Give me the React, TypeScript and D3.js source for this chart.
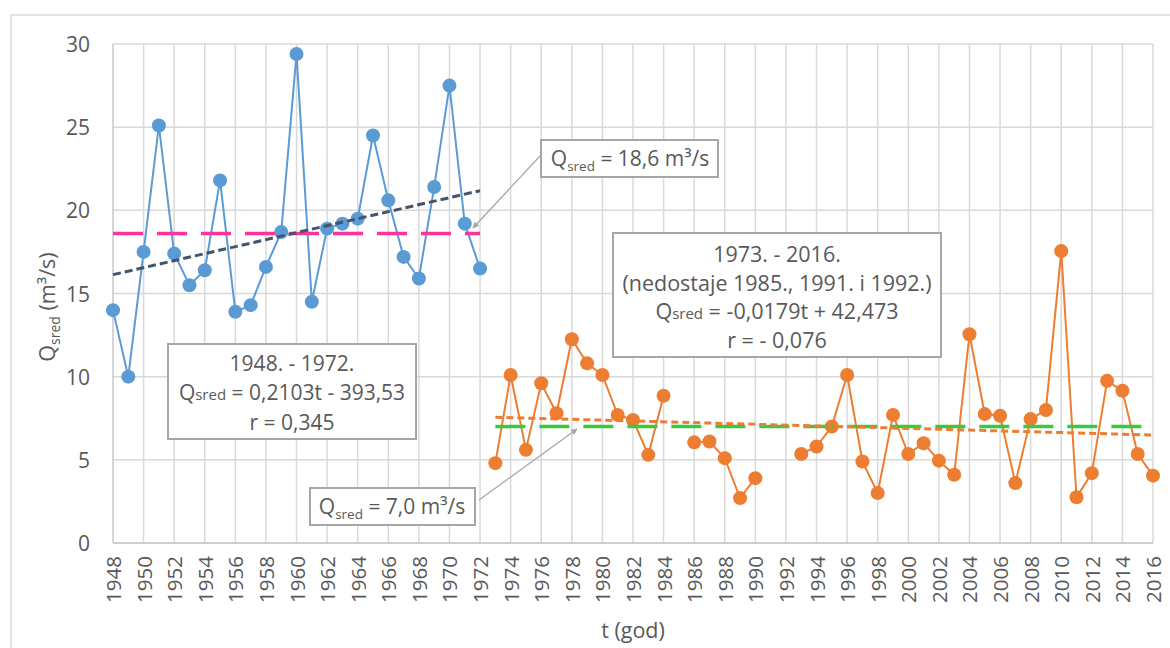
import * as d3 from 'd3'
import React from 'react'

// Mean annual discharge, period 1 (1948 - 1972)
const years1 = d3.range(1948, 1973)
const q1 = [14.0, 10.0, 17.5, 25.1, 17.4, 15.5, 16.4, 21.8, 13.9, 14.3, 16.6, 18.7, 29.4,
    14.5, 18.9, 19.2, 19.5, 24.5, 20.6, 17.2, 15.9, 21.4, 27.5, 19.2, 16.5]

// Period 2 (1973 - 2016), null = missing year (1985, 1991, 1992)
const years2 = d3.range(1973, 2017)
const q2 = [4.8, 10.1, 5.6, 9.6, 7.8, 12.25, 10.8, 10.1, 7.7, 7.4, 5.3, 8.85, null,
    6.05, 6.1, 5.1, 2.7, 3.9, null, null, 5.35, 5.8, 7.0, 10.1, 4.9, 3.0, 7.7, 5.35,
    6.0, 4.95, 4.1, 12.55, 7.75, 7.65, 3.6, 7.45, 8.0, 17.55, 2.75, 4.2, 9.75, 9.15,
    5.35, 4.05]

// Mean values and trend lines [year, Q]
const mean1 = [[1948, 18.6], [1972, 18.6]]
const mean2 = [[1973, 7.0], [2016, 7.0]]
const trend1 = [[1948, 0.2103 * 1948 - 393.53], [1972, 0.2103 * 1972 - 393.53]]
const trend2 = [[1973, 7.56], [2016, 6.49]]

const yTicks = [0, 5, 10, 15, 20, 25, 30]
const xTicks = d3.range(1948, 2017, 2)

const font = "'Open Sans', sans-serif"
const txt = '#595959'
const grid = '#D9D9D9'
const boxStroke = '#A6A6A6'

const App = () => {
    const x = d3.scaleLinear().domain([1948, 2016]).range([113, 1153])
    const y = d3.scaleLinear().domain([0, 30]).range([543, 44])

    const line = d3.line<any>()
        .defined(d => d[1] != null)
        .x(d => x(d[0]))
        .y(d => y(d[1]))

    const s1 = years1.map((t, i) => [t, q1[i]])
    const s2 = years2.map((t, i) => [t, q2[i]])

    const sub = (size = 13.5) => (
        <tspan fontSize={size} dy={5}>sred</tspan>
    )

    return (
        <svg width={1170} height={648} style={{ position: 'absolute', left: 0, top: 0, background: '#fff' }}
            fontFamily={font}>
            <defs>
                <marker id="arr" viewBox="0 0 10 10" refX="9" refY="5" markerWidth="5" markerHeight="5"
                    orient="auto" markerUnits="strokeWidth">
                    <path d="M0,0 L10,5 L0,10 z" fill={boxStroke} />
                </marker>
            </defs>

            {/* outer chart border */}
            <rect x={11} y={15} width={1200} height={700} fill="none" stroke="#D9D9D9" strokeWidth={1.5} />

            {/* gridlines */}
            {yTicks.filter(v => v > 0).map(v => (
                <line key={'h' + v} x1={x(1948)} x2={x(2016)} y1={y(v)} y2={y(v)} stroke={grid} strokeWidth={1.5} />
            ))}
            {xTicks.filter(t => t > 1948).map(t => (
                <line key={'v' + t} x1={x(t)} x2={x(t)} y1={y(0)} y2={y(30)} stroke={grid} strokeWidth={1.5} />
            ))}
            {/* axes */}
            <line x1={x(1948)} x2={x(1948)} y1={y(0)} y2={y(30)} stroke="#C8C8C8" strokeWidth={1.5} />
            <line x1={x(1948)} x2={x(2016)} y1={y(0)} y2={y(0)} stroke="#BFBFBF" strokeWidth={1.5} />

            {/* y tick labels */}
            {yTicks.map(v => (
                <text key={'yl' + v} x={90} y={y(v)} textAnchor="end" dominantBaseline="central"
                    fontSize={21} fill={txt}>{v}</text>
            ))}
            {/* x tick labels */}
            {xTicks.map(t => (
                <text key={'xl' + t} transform={`translate(${x(t)},556) rotate(-90)`} textAnchor="end"
                    dominantBaseline="central" fontSize={20.5} fill={txt}>{t}</text>
            ))}

            {/* axis titles */}
            <text transform="translate(55,307) rotate(-90)" textAnchor="middle" fontSize={21.5} fill={txt}>
                Q<tspan fontSize={14} dy={5}>sred</tspan><tspan dy={-5}> (m³/s)</tspan>
            </text>
            <text x={633} y={638} textAnchor="middle" fontSize={21.5} fill={txt}>t (god)</text>

            {/* series 1 */}
            <path d={line(s1) || ''} fill="none" stroke="#5B9BD5" strokeWidth={2} />
            {s1.map(d => (
                <circle key={'c1' + d[0]} cx={x(d[0])} cy={y(d[1])} r={7} fill="#5B9BD5" />
            ))}
            {/* series 2 */}
            <path d={line(s2) || ''} fill="none" stroke="#ED7D31" strokeWidth={2} />
            {s2.filter(d => d[1] != null).map(d => (
                <circle key={'c2' + d[0]} cx={x(d[0])} cy={y(d[1] as number)} r={7} fill="#ED7D31" />
            ))}

            {/* means and trends */}
            <path d={line(mean1) || ''} stroke="#FF3399" strokeWidth={3.5} strokeDasharray="30 14" fill="none" />
            <path d={line(trend1) || ''} stroke="#44546A" strokeWidth={3} strokeDasharray="8 4" fill="none" />
            <path d={line(mean2) || ''} stroke="#3CC83C" strokeWidth={3.5} strokeDasharray="30 14" fill="none" />
            <path d={line(trend2) || ''} stroke="#ED7D31" strokeWidth={3} strokeDasharray="7 4" fill="none" />

            {/* callout arrows */}
            <line x1={540} y1={156} x2={473} y2={228} stroke={boxStroke} strokeWidth={1.3} markerEnd="url(#arr)" />
            <line x1={479} y1={500} x2={577} y2={429} stroke={boxStroke} strokeWidth={1.3} markerEnd="url(#arr)" />

            {/* annotation boxes */}
            <g fill={txt} fontSize={21} textAnchor="middle">
                <rect x={541} y={140} width={177} height={37} fill="#fff" stroke={boxStroke} strokeWidth={2} />
                <text x={630} y={166}>Q{sub()}<tspan dy={-5}> = 18,6 m³/s</tspan></text>

                <rect x={613} y={233} width={328} height={124} fill="#fff" stroke={boxStroke} strokeWidth={2} />
                <text x={777} y={262} fontSize={21.5}>1973. - 2016.</text>
                <text x={777} y={291} fontSize={21.5}>(nedostaje 1985., 1991. i 1992.)</text>
                <text x={777} y={319} fontSize={21.5}>Q<tspan fontSize={15}>sred</tspan> = -0,0179t + 42,473</text>
                <text x={777} y={348} fontSize={21.5}>r = - 0,076</text>

                <rect x={168} y={344} width={248} height={95} fill="#fff" stroke={boxStroke} strokeWidth={2} />
                <text x={292} y={371}>1948. - 1972.</text>
                <text x={292} y={400}>Q<tspan fontSize={15}>sred</tspan> = 0,2103t - 393,53</text>
                <text x={292} y={430}>r = 0,345</text>

                <rect x={310} y={488} width={165} height={37} fill="#fff" stroke={boxStroke} strokeWidth={2} />
                <text x={392} y={514}>Q{sub()}<tspan dy={-5}> = 7,0 m³/s</tspan></text>
            </g>
        </svg>
    )
}

export default App
